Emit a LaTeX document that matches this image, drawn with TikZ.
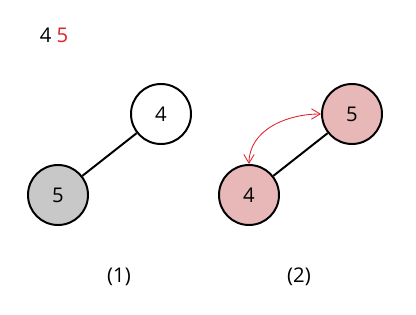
\documentclass[tikz,border=0pt]{standalone}
\usepackage{fontspec}
\setmainfont{Open Sans}
\usepackage{tikz}
\usetikzlibrary{arrows.meta,positioning,calc}
\usepackage{xcolor}
\definecolor{hpGray}{HTML}{C8C8C8}
\definecolor{hpPink}{HTML}{E8B8B8}
\definecolor{hpRed}{HTML}{E0202A}

\begin{document}
\begin{tikzpicture}[
  key/.style={circle, draw=black, line width=1.4pt, minimum size=1.5cm, inner sep=0pt, font=\Large, fill=white},
  lnk/.style={line width=1.4pt, black},
  swp/.style={{Straight Barb[length=2.2mm, width=2.6mm]}-{Straight Barb[length=2.2mm, width=2.6mm]}, hpRed, line width=0.6pt},
  stepcap/.style={font=\Large}]
\useasboundingbox (0,0) rectangle (10.4,7.85);
\node[font=\Large] (arr) at (1.35,6.975) {4 \textcolor{hpRed}{5}};

% ── (1) new key below its parent ──
\node[key] (a4) at (4.025,5.0) {4};
\node[key, fill=hpGray] (a5) at (1.45,2.975) {5};
\draw[lnk] (a4) -- (a5);
\node[stepcap] (c1) at (2.975,0.925) {(1)};

% ── (2) after the swap ──
\node[key, fill=hpPink] (b5) at (8.8,5.0) {5};
\node[key, fill=hpPink] (b4) at (6.225,2.975) {4};
\draw[lnk] (b5) -- (b4);
\draw[swp] (b4.north) to[out=90, in=180] (b5.west);
\node[stepcap] (c2) at (7.475,0.925) {(2)};
\end{tikzpicture}
\end{document}
